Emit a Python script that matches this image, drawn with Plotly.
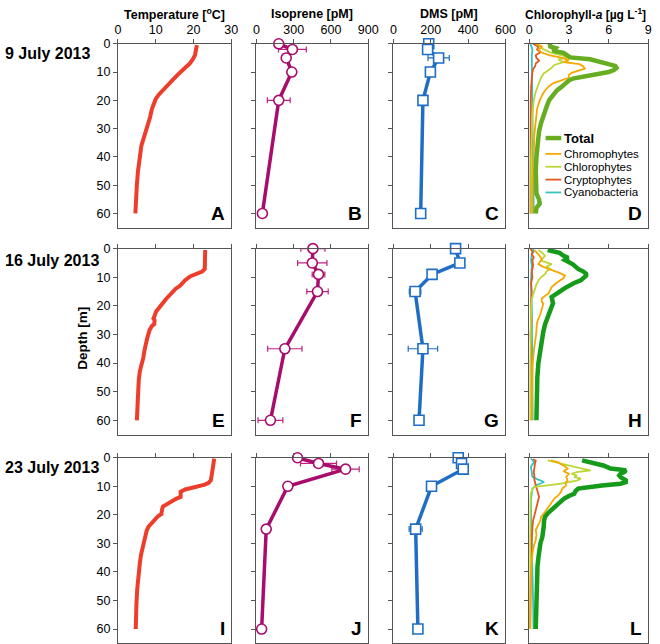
import plotly.graph_objects as go

W, H = 660, 644
FONT = "Liberation Sans, Arial, sans-serif"

# ---------------- data ----------------
dates = ["9 July 2013", "16 July 2013", "23 July 2013"]
panel_letters = ["A", "B", "C", "D", "E", "F", "G", "H", "I", "J", "K", "L"]
col_titles = ["<b>Temperature [<sup>o</sup>C]</b>", "<b>Isoprene [pM]</b>", "<b>DMS [pM]</b>",
              "<b>Chlorophyll-<i>a</i> [µg L<sup>-1</sup>]</b>"]
x_ranges = [[0, 30], [0, 900], [0, 600], [0, 9]]
x_ticks = [[0, 10, 20, 30], [0, 300, 600, 900], [0, 200, 400, 600], [0, 3, 6, 9]]
depth_ticks = [0, 10, 20, 30, 40, 50, 60]

# Temperature profiles
temp_depth_0709 = [0.5, 2, 4, 5.5, 7, 8.5, 9.5, 11, 12.5, 14, 16, 18, 19.5, 21, 23, 26, 29, 31.5, 34, 36, 38, 41, 45, 50, 55, 60]
temp_0709 = [20.9, 20.8, 20.4, 19.8, 19.0, 17.8, 16.9, 15.8, 14.7, 13.6, 12.1, 10.8, 10.0, 9.5, 9.0, 8.5, 7.8, 7.3, 6.6, 6.2, 6.0, 5.6, 5.3, 5.0, 4.8, 4.6]
temp_depth_0716 = [0.5, 3, 5, 7.1, 8, 9, 9.7, 11, 12.9, 14, 15.7, 17.5, 19.2, 21, 22, 23.5, 24.4, 25, 26.4, 27, 28.4, 31, 33.6, 35, 38.2, 40, 42.8, 46, 49.7, 55, 60]
temp_0716 = [23.1, 23.0, 23.0, 23.0, 22.3, 20.5, 19.1, 17.8, 16.5, 15.3, 13.9, 12.8, 11.8, 10.9, 10.1, 9.7, 9.4, 9.7, 9.6, 9.0, 8.4, 7.8, 7.3, 7.1, 6.7, 6.3, 5.8, 5.5, 5.3, 5.1, 5.0]
temp_depth_0723 = [0.3, 1.5, 3.2, 5.5, 7.9, 8.8, 9.4, 10, 10.6, 11.1, 11.9, 12.8, 13.7, 14.3, 15.1, 16, 17.1, 18, 19.7, 20.5, 21.8, 23, 24.1, 25.5, 27.6, 29.5, 31.6, 34, 36.8, 40, 42.6, 46, 50.8, 55, 60]
temp_0723 = [25.5, 25.3, 25.1, 24.9, 24.6, 24.0, 23.0, 21.2, 19.5, 17.8, 16.6, 16.6, 16.6, 15.5, 14.4, 13.2, 11.9, 11.7, 11.5, 10.6, 9.8, 9.0, 8.1, 7.6, 7.2, 6.8, 6.4, 6.1, 5.8, 5.5, 5.3, 5.1, 4.9, 4.8, 4.7]

# Isoprene (pM) with standard deviation
iso_depth_0709 = [0, 2, 5, 10, 20, 60]
iso_0709 = [180, 290, 240, 285, 180, 48]
iso_err_0709 = [None, 112, None, None, 92, None]
iso_depth_0716 = [0, 5, 9, 15, 35, 60]
iso_0716 = [455, 450, 500, 492, 229, 113]
iso_err_0716 = [97, 118, 51, 86, 138, 100]
iso_depth_0723 = [0, 2, 4, 10, 25, 60]
iso_0723 = [331, 500, 718, 253, 79, 42]
iso_err_0723 = [None, 145, 110, None, None, None]

# DMS (pM) with standard deviation
dms_depth_0709 = [0, 2, 5, 10, 20, 60]
dms_0709 = [189, 183, 242, 198, 158, 146]
dms_err_0709 = [None, None, 57, None, None, None]
dms_depth_0716 = [0, 5, 9, 15, 35, 60]
dms_0716 = [333, 356, 207, 116, 158, 137]
dms_err_0716 = [25, None, None, 31, 79, None]
dms_depth_0723 = [0, 2, 4, 10, 25, 60]
dms_0723 = [347, 365, 374, 204, 119, 131]
dms_err_0723 = [None, None, 15, None, 35, None]

# Chlorophyll-a (µg/L), total and phytoplankton groups
tot_depth_0709 = [0, 0.8, 1.5, 2.5, 3.2, 4, 4.8, 5.5, 6.2, 7, 7.8, 8.5, 9.3, 10, 10.8, 11.5, 12.3, 13, 14, 15, 16.5, 18, 20, 22.5, 25, 28, 31, 35, 40, 45, 50, 53, 55, 56.5, 58, 60]
tot_0709 = [1.7, 1.5, 2.0, 1.8, 2.6, 2.8, 3.1, 4.6, 5.2, 6.0, 6.5, 6.6, 6.4, 6.0, 5.0, 4.2, 3.3, 3.0, 2.8, 2.5, 2.1, 1.8, 1.5, 1.3, 1.1, 0.9, 0.75, 0.65, 0.55, 0.5, 0.5, 0.55, 0.75, 0.8, 0.55, 0.5]
chromo_depth_0709 = [0, 1, 2, 3, 4, 5, 5.8, 6.5, 7.2, 8, 8.8, 9.5, 10.3, 11, 12, 13, 14, 15, 16.5, 18, 20, 23, 27, 32, 38, 45, 52, 60]
chromo_0709 = [0.5, 1.0, 0.7, 0.9, 1.5, 2.5, 3.0, 2.6, 3.8, 4.1, 4.2, 3.8, 3.2, 3.0, 3.0, 2.4, 1.8, 1.5, 1.2, 1.0, 0.8, 0.6, 0.5, 0.4, 0.35, 0.3, 0.25, 0.25]
chloro_depth_0709 = [0, 1, 2, 3, 4, 4.8, 5.5, 6.5, 7.5, 8.5, 9.5, 10.5, 12, 13.5, 15, 17, 20, 25, 30, 40, 50, 60]
chloro_0709 = [0.6, 0.8, 1.1, 1.6, 2.4, 3.0, 2.2, 2.6, 1.9, 1.7, 1.4, 1.1, 0.9, 0.8, 0.65, 0.5, 0.35, 0.25, 0.2, 0.15, 0.15, 0.15]
crypto_depth_0709 = [0, 1, 2, 3, 4, 5, 6, 7, 8, 9, 10, 12, 15, 20, 30, 40, 50, 60]
crypto_0709 = [0.3, 0.7, 0.6, 0.85, 0.5, 0.55, 0.75, 0.5, 0.45, 0.3, 0.25, 0.2, 0.15, 0.12, 0.1, 0.1, 0.1, 0.1]
cyano_depth_0709 = [0, 1, 2, 4, 8, 15, 25, 40, 50, 55, 60]
cyano_0709 = [0.1, 0.15, 0.25, 0.2, 0.2, 0.2, 0.25, 0.3, 0.3, 0.35, 0.35]

tot_depth_0716 = [0.5, 1, 1.5, 2.5, 3.2, 4, 4.8, 5.5, 6.3, 7.1, 8, 8.8, 9.5, 10.3, 11.1, 12, 12.9, 13.8, 14.6, 15.8, 16.9, 18, 19.2, 20.3, 21.5, 23, 24.4, 26.5, 29, 32, 36, 40, 45, 50, 55, 60]
tot_0716 = [1.4, 2.0, 2.3, 2.6, 2.95, 2.7, 3.1, 3.3, 3.5, 3.7, 4.1, 4.3, 4.3, 4.1, 3.9, 3.4, 2.95, 2.7, 2.45, 2.0, 1.7, 1.75, 1.8, 1.7, 1.6, 1.45, 1.3, 1.2, 1.07, 0.95, 0.83, 0.7, 0.62, 0.57, 0.57, 0.55]
chromo_depth_0716 = [0.5, 1.5, 2.5, 3.7, 4.5, 5.4, 6.2, 7.1, 8.3, 9.4, 10.3, 11.1, 12.2, 13.4, 14.5, 15.7, 16.5, 17.5, 18.5, 19.2, 20.5, 23.2, 25, 26.7, 29, 32.4, 36, 41.6, 50, 60]
chromo_0716 = [0.4, 0.6, 0.8, 0.95, 0.8, 0.7, 1.0, 1.45, 2.2, 2.7, 2.6, 2.3, 2.0, 1.7, 1.6, 1.45, 1.2, 0.95, 0.95, 1.07, 1.0, 0.83, 0.65, 0.57, 0.55, 0.45, 0.35, 0.25, 0.22, 0.2]
chloro_depth_0716 = [0.5, 1.5, 2.5, 3.5, 4.3, 5.4, 6.3, 7.1, 8, 8.9, 10, 11.1, 12.5, 14, 16, 17.5, 20, 25, 30, 40, 50, 60]
chloro_0716 = [0.7, 1.0, 1.2, 1.0, 0.95, 1.7, 1.3, 1.6, 1.3, 1.2, 0.9, 0.7, 0.55, 0.45, 0.3, 0.2, 0.15, 0.12, 0.12, 0.1, 0.1, 0.1]
crypto_depth_0716 = [0, 1, 2, 3, 4, 6, 8, 10, 12, 15, 20, 25, 30, 35, 40, 50, 60]
crypto_0716 = [0.1, 0.25, 0.2, 0.35, 0.25, 0.3, 0.2, 0.25, 0.15, 0.2, 0.12, 0.18, 0.1, 0.15, 0.12, 0.12, 0.12]
cyano_depth_0716 = [0, 1, 2, 4, 6, 10, 15, 20, 30, 40, 50, 60]
cyano_0716 = [0.3, 0.35, 0.2, 0.15, 0.2, 0.15, 0.15, 0.2, 0.22, 0.25, 0.25, 0.27]

tot_depth_0723 = [0.9, 1.5, 2.1, 2.7, 3.3, 3.8, 4.4, 5.0, 5.6, 6.2, 6.8, 7.4, 7.9, 8.5, 9.1, 9.7, 10.2, 10.8, 11.7, 12.6, 13.4, 14.3, 15.7, 17.2, 18.3, 19.5, 20.7, 21.9, 24.2, 26, 27.7, 30, 32.3, 35, 38.1, 42, 45, 50, 54.4, 57, 60]
tot_0723 = [4.0, 4.6, 4.8, 5.6, 5.9, 6.15, 7.3, 7.2, 6.9, 6.8, 6.9, 7.2, 7.3, 7.3, 6.9, 5.5, 4.6, 3.7, 3.5, 3.4, 3.0, 2.65, 2.3, 1.9, 1.6, 1.4, 1.2, 1.13, 1.1, 1.05, 1.0, 0.85, 0.75, 0.7, 0.63, 0.6, 0.58, 0.55, 0.5, 0.5, 0.5]
chromo_depth_0723 = [0.9, 1.6, 2.3, 3.0, 3.8, 4.7, 5.6, 6.7, 7.9, 8.8, 9.7, 10.8, 12, 13.2, 14.3, 15.7, 17.2, 19, 20.7, 22, 23, 24.2, 25.3, 27, 28.8, 31, 33.5, 37, 41.6, 50, 60]
chromo_0723 = [1.65, 2.2, 2.4, 2.7, 2.9, 2.6, 3.0, 2.8, 2.9, 2.75, 2.8, 2.5, 2.4, 2.2, 1.9, 1.7, 1.5, 1.2, 0.9, 0.85, 0.75, 0.6, 0.5, 0.55, 0.5, 0.35, 0.25, 0.18, 0.13, 0.1, 0.08]
chloro_depth_0723 = [0.9, 1.5, 2.1, 2.7, 3.3, 3.8, 4.4, 5.0, 5.6, 6.2, 6.7, 7.3, 7.9, 8.5, 9.1, 9.7, 10.2, 11, 12.6, 15, 20, 30, 40, 50, 60]
chloro_0723 = [1.4, 1.9, 2.5, 2.9, 3.4, 4.0, 4.65, 3.6, 3.2, 3.6, 3.4, 3.9, 3.65, 3.0, 2.4, 1.4, 0.4, 0.25, 0.13, 0.1, 0.08, 0.08, 0.08, 0.08, 0.08]
crypto_depth_0723 = [0.5, 1, 2, 3.3, 5, 6.5, 7.9, 9.5, 11.4, 12.5, 13.7, 15, 16, 17.5, 19.5, 22, 24.2, 30, 40, 50, 60]
crypto_0723 = [0.3, 0.5, 0.45, 0.4, 0.35, 0.4, 0.4, 0.5, 0.63, 0.7, 0.75, 0.68, 0.63, 0.5, 0.4, 0.3, 0.25, 0.18, 0.13, 0.1, 0.08]
cyano_depth_0723 = [0.3, 1, 1.5, 2.3, 3.3, 5, 6.7, 7.5, 8.5, 9.1, 9.7, 10.8, 12.5, 14.9, 20, 30, 40, 50, 60]
cyano_0723 = [0.13, 0.3, 0.4, 0.25, 0.13, 0.2, 0.25, 0.6, 1.13, 0.8, 0.5, 0.25, 0.18, 0.13, 0.15, 0.18, 0.25, 0.3, 0.33]

group_names = ["Total", "Chromophytes", "Chlorophytes", "Cryptophytes", "Cyanobacteria"]

# ---------------- styling ----------------
C_TEMP = "#EE3D2B"
C_ISO = "#A80C6C"
C_DMS = "#1E6EC6"
C_TOTAL = ["#66AD22", "#169A1A", "#169A1A"]
C_GROUPS = {"Chromophytes": "#F7A800", "Chlorophytes": "#BCD636",
            "Cryptophytes": "#E2581E", "Cyanobacteria": "#35C4C0"}
C_AXIS = "#555555"

col_px = [(117.3, 232.8), (258.5, 372.5), (398.3, 512.5), (536.7, 658.3)]
row_px = [(37.2, 223.0), (244.3, 432.3), (455.7, 643.3)]
title_cx = [175, 315.5, 455.4, 594.5]


def px2x(px):
    return px / W


def px2y(py):
    return 1 - py / H


fig = go.Figure()
layout = dict(
    width=W, height=H, margin=dict(l=0, r=0, t=0, b=0, pad=0),
    paper_bgcolor="white", plot_bgcolor="white", showlegend=False,
    font=dict(family=FONT, size=12.5, color="black"),
)

for r in range(3):
    for c in range(4):
        k = r * 4 + c + 1
        xa = "xaxis" if k == 1 else f"xaxis{k}"
        ya = "yaxis" if k == 1 else f"yaxis{k}"
        layout[xa] = dict(
            domain=[px2x(col_px[c][0]), px2x(col_px[c][1])], anchor=f"y{k}", side="top",
            range=x_ranges[c], tickvals=x_ticks[c], showticklabels=(r == 0),
            ticks="outside", ticklen=4, tickcolor=C_AXIS, showline=True, mirror=True,
            linecolor=C_AXIS, linewidth=1, showgrid=False, zeroline=False,
            tickfont=dict(size=12.5, family=FONT, color="black"), fixedrange=True,
        )
        layout[ya] = dict(
            domain=[px2y(row_px[r][1]), px2y(row_px[r][0])], anchor=f"x{k}",
            range=[65, 0], tickvals=depth_ticks, showticklabels=(c == 0),
            ticks="outside", ticklen=4, tickcolor=C_AXIS, showline=True, mirror=True,
            linecolor=C_AXIS, linewidth=1, showgrid=False, zeroline=False,
            tickfont=dict(size=12.5, family=FONT, color="black"), fixedrange=True,
        )

temps = [(temp_depth_0709, temp_0709), (temp_depth_0716, temp_0716), (temp_depth_0723, temp_0723)]
isos = [(iso_depth_0709, iso_0709, iso_err_0709), (iso_depth_0716, iso_0716, iso_err_0716),
        (iso_depth_0723, iso_0723, iso_err_0723)]
dmss = [(dms_depth_0709, dms_0709, dms_err_0709), (dms_depth_0716, dms_0716, dms_err_0716),
        (dms_depth_0723, dms_0723, dms_err_0723)]
chls = [
    {"Total": (tot_depth_0709, tot_0709), "Chromophytes": (chromo_depth_0709, chromo_0709),
     "Chlorophytes": (chloro_depth_0709, chloro_0709), "Cryptophytes": (crypto_depth_0709, crypto_0709),
     "Cyanobacteria": (cyano_depth_0709, cyano_0709)},
    {"Total": (tot_depth_0716, tot_0716), "Chromophytes": (chromo_depth_0716, chromo_0716),
     "Chlorophytes": (chloro_depth_0716, chloro_0716), "Cryptophytes": (crypto_depth_0716, crypto_0716),
     "Cyanobacteria": (cyano_depth_0716, cyano_0716)},
    {"Total": (tot_depth_0723, tot_0723), "Chromophytes": (chromo_depth_0723, chromo_0723),
     "Chlorophytes": (chloro_depth_0723, chloro_0723), "Cryptophytes": (crypto_depth_0723, crypto_0723),
     "Cyanobacteria": (cyano_depth_0723, cyano_0723)},
]


def ax(k):
    return ("x" if k == 1 else f"x{k}"), ("y" if k == 1 else f"y{k}")


for r in range(3):
    # temperature
    xk, yk = ax(r * 4 + 1)
    d, v = temps[r]
    fig.add_trace(go.Scatter(x=v, y=d, mode="lines", xaxis=xk, yaxis=yk,
                             line=dict(color=C_TEMP, width=4)))
    # isoprene
    xk, yk = ax(r * 4 + 2)
    d, v, e = isos[r]
    fig.add_trace(go.Scatter(x=v, y=d, mode="lines+markers", xaxis=xk, yaxis=yk, cliponaxis=False,
                             line=dict(color=C_ISO, width=3.5),
                             marker=dict(symbol="circle", size=10, color="white",
                                         line=dict(color=C_ISO, width=1.6)),
                             error_x=dict(type="data", array=e, visible=True, color="#C0207E",
                                          thickness=1.2, width=3)))
    # DMS
    xk, yk = ax(r * 4 + 3)
    d, v, e = dmss[r]
    fig.add_trace(go.Scatter(x=v, y=d, mode="lines+markers", xaxis=xk, yaxis=yk, cliponaxis=False,
                             line=dict(color=C_DMS, width=3.5),
                             marker=dict(symbol="square", size=10, color="white",
                                         line=dict(color=C_DMS, width=1.6)),
                             error_x=dict(type="data", array=e, visible=True, color=C_DMS,
                                          thickness=1.2, width=3)))
    # chlorophyll
    xk, yk = ax(r * 4 + 4)
    for g in ["Cyanobacteria", "Cryptophytes", "Chlorophytes", "Chromophytes", "Total"]:
        d, v = chls[r][g]
        if g == "Total":
            ln = dict(color=C_TOTAL[r], width=4.5)
        else:
            ln = dict(color=C_GROUPS[g], width=1.8)
        fig.add_trace(go.Scatter(x=v, y=d, mode="lines", xaxis=xk, yaxis=yk, name=g, line=ln))

annotations = []
# column titles
for c in range(4):
    annotations.append(dict(text=col_titles[c], xref="paper", yref="paper",
                            x=px2x(title_cx[c]), y=px2y(7.5),
                            xanchor="center", yanchor="middle", showarrow=False,
                            font=dict(size=12 if c == 3 else 12.5, family=FONT, color="black")))
# row labels
row_label_y = [47, 256, 466]
for r in range(3):
    annotations.append(dict(text=f"<b>{dates[r]}</b>", xref="paper", yref="paper",
                            x=0, y=px2y(row_label_y[r]), xanchor="left", yanchor="middle",
                            showarrow=False, font=dict(size=16, family=FONT, color="black")))
# depth label
annotations.append(dict(text="<b>Depth [m]</b>", xref="paper", yref="paper",
                        x=px2x(81.5), y=px2y(334.5), textangle=-90, xanchor="center",
                        yanchor="middle", showarrow=False,
                        font=dict(size=13.5, family=FONT, color="black")))
# panel letters
for k in range(1, 13):
    xk, yk = ax(k)
    annotations.append(dict(text=f"<b>{panel_letters[k - 1]}</b>", xref=f"{xk} domain",
                            yref=f"{yk} domain", x=1, y=0, xanchor="right", yanchor="bottom",
                            xshift=-4, yshift=2, showarrow=False,
                            font=dict(size=19, family=FONT, color="black")))

# legend in panel D
shapes = []
leg_y = [132.5, 148.5, 161.5, 174.5, 187.5]
leg_colors = [C_TOTAL[0], C_GROUPS["Chromophytes"], C_GROUPS["Chlorophytes"],
              C_GROUPS["Cryptophytes"], C_GROUPS["Cyanobacteria"]]
for i, g in enumerate(group_names):
    shapes.append(dict(type="line", xref="paper", yref="paper",
                       x0=px2x(553.5), x1=px2x(569.5), y0=px2y(leg_y[i]), y1=px2y(leg_y[i]),
                       line=dict(color=leg_colors[i], width=4.5 if i == 0 else 1.8)))
    annotations.append(dict(text=(f"<b>{g}</b>" if i == 0 else g), xref="paper", yref="paper",
                            x=px2x(570.5), y=px2y(leg_y[i]), xanchor="left", yanchor="middle",
                            showarrow=False,
                            font=dict(size=13 if i == 0 else 11.5, family=FONT, color="black")))

layout["annotations"] = annotations
layout["shapes"] = shapes
fig.update_layout(**layout)
fig.write_html(
    "out.html",
    config={"displayModeBar": False},
    post_script="document.body.style.margin='0px';document.body.style.padding='0px';"
                "document.body.style.overflow='hidden';",
)
